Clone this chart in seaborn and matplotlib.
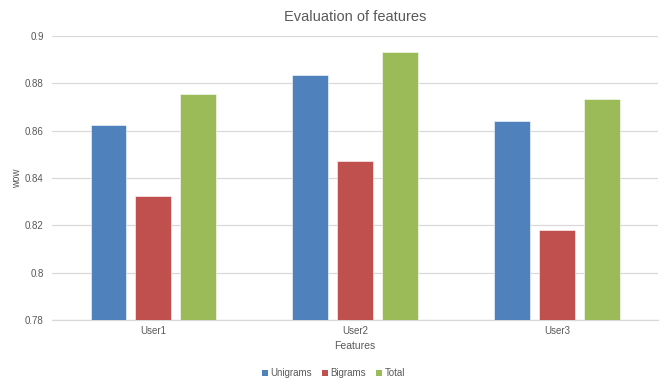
import matplotlib
matplotlib.use("Agg")
import matplotlib.pyplot as plt
from matplotlib.ticker import FuncFormatter, MultipleLocator
from matplotlib.patches import Patch
import seaborn as sns
import pandas as pd

users = ["User1", "User2", "User3"]
series = ["Unigrams", "Bigrams", "Total"]
unigrams = [0.8623, 0.8835, 0.8641]
bigrams = [0.8324, 0.8470, 0.8180]
total = [0.8755, 0.8933, 0.8734]
colors = ["#4F81BD", "#C0504D", "#9BBB59"]

df = pd.DataFrame({
    "Features": users * 3,
    "series": [s for s in series for _ in users],
    "value": unigrams + bigrams + total,
})

sns.set_theme(style="white")
plt.rcParams["font.family"] = ["Liberation Sans", "DejaVu Sans"]
text_color = "#595959"

fig = plt.figure(figsize=(6.67, 3.84), dpi=100)
ax = fig.add_axes([0.078, 0.1667, 0.9085, 0.7395])

sns.barplot(data=df, x="Features", y="value", hue="series", hue_order=series,
            palette=colors, saturation=1, width=0.668, gap=0.22, ax=ax,
            legend=False, edgecolor="white", linewidth=0.4, zorder=3)

ax.set_ylim(0.78, 0.9)
ax.set_xlim(-0.5, 2.5)
ax.yaxis.set_major_locator(MultipleLocator(0.02))
ax.yaxis.set_major_formatter(FuncFormatter(lambda v, p: f"{round(v, 4):g}"))
ax.grid(axis="y", color="#D9D9D9", linewidth=0.9, zorder=0)
for side in ["top", "right", "left"]:
    ax.spines[side].set_visible(False)
ax.spines["bottom"].set_color("#D9D9D9")
ax.spines["bottom"].set_linewidth(0.9)
ax.tick_params(axis="both", length=0, labelsize=7, labelcolor=text_color, pad=4)
ax.tick_params(axis="y", pad=6)

ax.set_title("Evaluation of features", fontsize=10.5, color=text_color, pad=11)
ax.set_xlabel("Features", fontsize=7.5, color=text_color, labelpad=4)
ax.set_ylabel("wow", fontsize=7, color=text_color, labelpad=2)

handles = [Patch(facecolor=c, edgecolor="none", label=s) for c, s in zip(colors, series)]
fig.legend(handles=handles, loc="center", bbox_to_anchor=(0.5, 0.028), ncol=3,
           frameon=False, fontsize=7, labelcolor=text_color, handlelength=0.6,
           handleheight=0.6, handletextpad=0.3, columnspacing=1.0)

fig.savefig("out.png", dpi=100, facecolor="white")
